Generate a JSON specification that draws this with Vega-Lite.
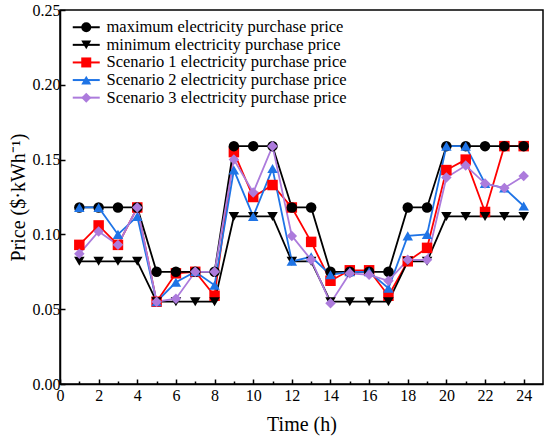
{
  "$schema": "https://vega.github.io/schema/vega-lite/v6.json",
  "width": 483,
  "height": 374,
  "autosize": "none",
  "padding": {"left": 60, "top": 10, "right": 7, "bottom": 54},
  "background": "white",
  "config": {
    "view": {"stroke": "black", "strokeWidth": 1.5},
    "font": "Liberation Serif",
    "axis": {
      "grid": false,
      "domainColor": "black",
      "domainWidth": 1.5,
      "tickColor": "black",
      "tickWidth": 1.5,
      "labelFont": "Liberation Serif",
      "labelFontSize": 16,
      "labelColor": "black",
      "titleFont": "Liberation Serif",
      "titleFontSize": 20,
      "titleFontWeight": "normal",
      "titleColor": "black",
      "labelOverlap": false,
      "labelFlush": false
    },
    "legend": {
      "title": null,
      "orient": "none",
      "legendX": 18,
      "legendY": 9,
      "padding": 0,
      "labelFont": "Liberation Serif",
      "labelFontSize": 16.5,
      "labelColor": "black",
      "labelLimit": 400,
      "labelOffset": 12,
      "symbolSize": 100,
      "rowPadding": 0.6
    }
  },
  "data": {
    "values": [
      {"t": 1, "max": 0.118, "min": 0.082, "s1": 0.093, "s2": 0.118, "s3": 0.087},
      {"t": 2, "max": 0.118, "min": 0.082, "s1": 0.106, "s2": 0.118, "s3": 0.102},
      {"t": 3, "max": 0.118, "min": 0.082, "s1": 0.093, "s2": 0.100, "s3": 0.093},
      {"t": 4, "max": 0.118, "min": 0.082, "s1": 0.118, "s2": 0.112, "s3": 0.118},
      {"t": 5, "max": 0.075, "min": 0.055, "s1": 0.055, "s2": 0.055, "s3": 0.055},
      {"t": 6, "max": 0.075, "min": 0.055, "s1": 0.074, "s2": 0.068, "s3": 0.057},
      {"t": 7, "max": 0.075, "min": 0.055, "s1": 0.075, "s2": 0.075, "s3": 0.075},
      {"t": 8, "max": 0.075, "min": 0.055, "s1": 0.059, "s2": 0.066, "s3": 0.075},
      {"t": 9, "max": 0.159, "min": 0.112, "s1": 0.155, "s2": 0.143, "s3": 0.150},
      {"t": 10, "max": 0.159, "min": 0.112, "s1": 0.125, "s2": 0.112, "s3": 0.128},
      {"t": 11, "max": 0.159, "min": 0.112, "s1": 0.133, "s2": 0.144, "s3": 0.159},
      {"t": 12, "max": 0.118, "min": 0.082, "s1": 0.118, "s2": 0.082, "s3": 0.099},
      {"t": 13, "max": 0.118, "min": 0.082, "s1": 0.095, "s2": 0.085, "s3": 0.083},
      {"t": 14, "max": 0.075, "min": 0.055, "s1": 0.069, "s2": 0.073, "s3": 0.054},
      {"t": 15, "max": 0.075, "min": 0.055, "s1": 0.076, "s2": 0.075, "s3": 0.074},
      {"t": 16, "max": 0.075, "min": 0.055, "s1": 0.076, "s2": 0.075, "s3": 0.073},
      {"t": 17, "max": 0.075, "min": 0.055, "s1": 0.059, "s2": 0.064, "s3": 0.069},
      {"t": 18, "max": 0.118, "min": 0.082, "s1": 0.082, "s2": 0.099, "s3": 0.083},
      {"t": 19, "max": 0.118, "min": 0.082, "s1": 0.091, "s2": 0.100, "s3": 0.083},
      {"t": 20, "max": 0.159, "min": 0.112, "s1": 0.143, "s2": 0.159, "s3": 0.138},
      {"t": 21, "max": 0.159, "min": 0.112, "s1": 0.150, "s2": 0.159, "s3": 0.146},
      {"t": 22, "max": 0.159, "min": 0.112, "s1": 0.115, "s2": 0.134, "s3": 0.134},
      {"t": 23, "max": 0.159, "min": 0.112, "s1": 0.159, "s2": 0.131, "s3": 0.131},
      {"t": 24, "max": 0.159, "min": 0.112, "s1": 0.159, "s2": 0.119, "s3": 0.139}
    ]
  },
  "transform": [
    {"fold": ["s1", "max", "min", "s2", "s3"], "as": ["series", "price"]}
  ],
  "encoding": {
    "x": {
      "field": "t",
      "type": "quantitative",
      "scale": {"domain": [0, 25], "nice": false, "zero": false},
      "axis": {
        "title": "Time (h)",
        "titleFontWeight": "normal",
        "values": [0,1,2,3,4,5,6,7,8,9,10,11,12,13,14,15,16,17,18,19,20,21,22,23,24],
        "labelExpr": "datum.value % 2 === 0 ? datum.label : ''",
        "tickSize": {"condition": {"test": "datum.value % 2 === 0", "value": -5}, "value": -3},
        "labelPadding": 8,
        "titlePadding": 9
      }
    },
    "y": {
      "field": "price",
      "type": "quantitative",
      "scale": {"domain": [0, 0.25], "nice": false},
      "axis": {
        "title": "Price ($·kWh⁻¹)",
        "titleFontWeight": "normal",
        "values": [0, 0.05, 0.1, 0.15, 0.2, 0.25],
        "format": ".2f",
        "tickSize": -5,
        "labelPadding": 5,
        "titlePadding": 4
      }
    }
  },
  "layer": [
    {
      "mark": {"type": "line", "strokeWidth": 1.8},
      "encoding": {
        "stroke": {
          "field": "series",
          "type": "nominal",
          "sort": ["max", "min", "s1", "s2", "s3"],
          "scale": {
            "range": ["#000000", "#000000", "#ff0000", "#1f74e6", "#ac7bdc"]
          },
          "legend": {
            "symbolType": "M-2.7,0H2.7",
            "symbolStrokeWidth": 2,
            "symbolFillColor": "transparent",
            "labelOpacity": 0,
            "labelExpr": "datum.value === 'max' ? 'maximum electricity purchase price' : datum.value === 'min' ? 'minimum electricity purchase price' : datum.value === 's1' ? 'Scenario 1 electricity purchase price' : datum.value === 's2' ? 'Scenario 2 electricity purchase price' : 'Scenario 3 electricity purchase price'"
          }
        },
        "detail": {"field": "series"}
      }
    },
    {
      "mark": {"type": "point", "filled": true, "opacity": 1, "size": 110},
      "encoding": {
        "color": {
          "field": "series",
          "type": "nominal",
          "scale": {
            "domain": ["max", "min", "s1", "s2", "s3"],
            "range": ["#000000", "#000000", "#ff0000", "#1f74e6", "#ac7bdc"]
          },
          "legend": {
            "symbolOpacity": 1,
            "labelExpr": "datum.value === 'max' ? 'maximum electricity purchase price' : datum.value === 'min' ? 'minimum electricity purchase price' : datum.value === 's1' ? 'Scenario 1 electricity purchase price' : datum.value === 's2' ? 'Scenario 2 electricity purchase price' : 'Scenario 3 electricity purchase price'"
          }
        },
        "shape": {
          "field": "series",
          "type": "nominal",
          "scale": {
            "domain": ["max", "min", "s1", "s2", "s3"],
            "range": ["circle", "triangle-down", "square", "triangle-up", "diamond"]
          },
          "legend": {
            "symbolOpacity": 1,
            "labelExpr": "datum.value === 'max' ? 'maximum electricity purchase price' : datum.value === 'min' ? 'minimum electricity purchase price' : datum.value === 's1' ? 'Scenario 1 electricity purchase price' : datum.value === 's2' ? 'Scenario 2 electricity purchase price' : 'Scenario 3 electricity purchase price'"
          }
        }
      }
    }
  ]
}
